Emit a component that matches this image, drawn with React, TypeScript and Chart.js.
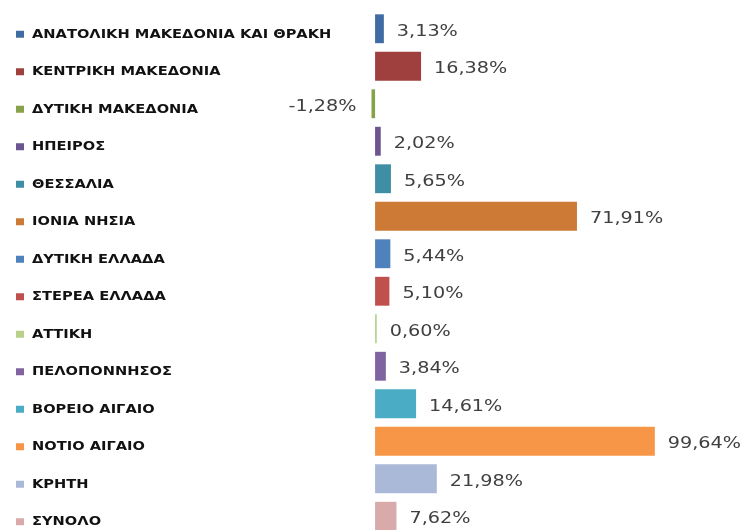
import React, { useEffect, useRef } from "react";
import { Chart, registerables } from "chart.js";

Chart.register(...registerables);

const categories = [
  "ΑΝΑΤΟΛΙΚΗ ΜΑΚΕΔΟΝΙΑ ΚΑΙ ΘΡΑΚΗ",
  "ΚΕΝΤΡΙΚΗ ΜΑΚΕΔΟΝΙΑ",
  "ΔΥΤΙΚΗ ΜΑΚΕΔΟΝΙΑ",
  "ΗΠΕΙΡΟΣ",
  "ΘΕΣΣΑΛΙΑ",
  "ΙΟΝΙΑ ΝΗΣΙΑ",
  "ΔΥΤΙΚΗ ΕΛΛΑΔΑ",
  "ΣΤΕΡΕΑ ΕΛΛΑΔΑ",
  "ΑΤΤΙΚΗ",
  "ΠΕΛΟΠΟΝΝΗΣΟΣ",
  "ΒΟΡΕΙΟ ΑΙΓΑΙΟ",
  "ΝΟΤΙΟ ΑΙΓΑΙΟ",
  "ΚΡΗΤΗ",
  "ΣΥΝΟΛΟ",
];

const values = [3.13, 16.38, -1.28, 2.02, 5.65, 71.91, 5.44, 5.1, 0.6, 3.84, 14.61, 99.64, 21.98, 7.62];

const valueLabels = [
  "3,13%", "16,38%", "-1,28%", "2,02%", "5,65%", "71,91%", "5,44%",
  "5,10%", "0,60%", "3,84%", "14,61%", "99,64%", "21,98%", "7,62%",
];

const colors = [
  "#3F6CA3", "#A0403E", "#86A24A", "#6C5590", "#3E8FA6", "#CD7A36", "#4F81BD",
  "#C0504D", "#B8D08A", "#8064A2", "#4BACC6", "#F79646", "#AAB9D7", "#D9AAAA",
];

const labelPlugin = {
  id: "customLabels",
  afterDraw(chart: any) {
    const ctx = chart.ctx;
    const yScale = chart.scales.y;
    const meta = chart.getDatasetMeta(0);
    ctx.save();
    categories.forEach((cat, i) => {
      const yc = yScale.getPixelForValue(i);
      const ly = yc + 6;
      // legend square
      ctx.fillStyle = colors[i];
      ctx.fillRect(16, ly - 4, 8, 7);
      // label text
      ctx.save();
      ctx.translate(32, ly);
      ctx.scale(1.22, 1);
      ctx.fillStyle = "#111111";
      ctx.font = "bold 12px 'DejaVu Sans'";
      ctx.textBaseline = "middle";
      ctx.textAlign = "left";
      ctx.fillText(cat, 0, 0);
      ctx.restore();
      // value label
      const bar = meta.data[i];
      const v = values[i];
      ctx.save();
      ctx.font = "16px 'DejaVu Sans'";
      ctx.fillStyle = "#404040";
      ctx.textBaseline = "middle";
      if (v >= 0) {
        ctx.translate(bar.x + 13, bar.y + 3);
        ctx.scale(1.2, 1);
        ctx.textAlign = "left";
      } else {
        ctx.translate(bar.x - 15, bar.y + 3);
        ctx.scale(1.2, 1);
        ctx.textAlign = "right";
      }
      ctx.fillText(valueLabels[i], 0, 0);
      ctx.restore();
    });
    ctx.restore();
  },
};

export default function App() {
  const ref = useRef<HTMLCanvasElement>(null);
  useEffect(() => {
    if (!ref.current) return;
    const chart = new Chart(ref.current, {
      type: "bar",
      data: {
        labels: categories,
        datasets: [
          {
            data: values,
            backgroundColor: colors,
            borderWidth: 0,
            barPercentage: 0.77,
            categoryPercentage: 1,
          },
        ],
      },
      options: {
        indexAxis: "y",
        animation: false,
        responsive: true,
        maintainAspectRatio: false,
        layout: { padding: { left: 347, right: 35, top: 10, bottom: 1 } },
        plugins: { legend: { display: false }, tooltip: { enabled: false } },
        scales: {
          x: { display: false, min: -10, max: 120, grid: { display: false } },
          y: { display: false, grid: { display: false } },
        },
      },
      plugins: [labelPlugin],
    });
    return () => chart.destroy();
  }, []);
  return (
    <div style={{ position: "fixed", left: 0, top: 0, width: 747, height: 530, overflow: "hidden", background: "#fff" }}>
      <div style={{ position: "relative", width: 747, height: 536 }}>
        <canvas ref={ref} />
      </div>
    </div>
  );
}
